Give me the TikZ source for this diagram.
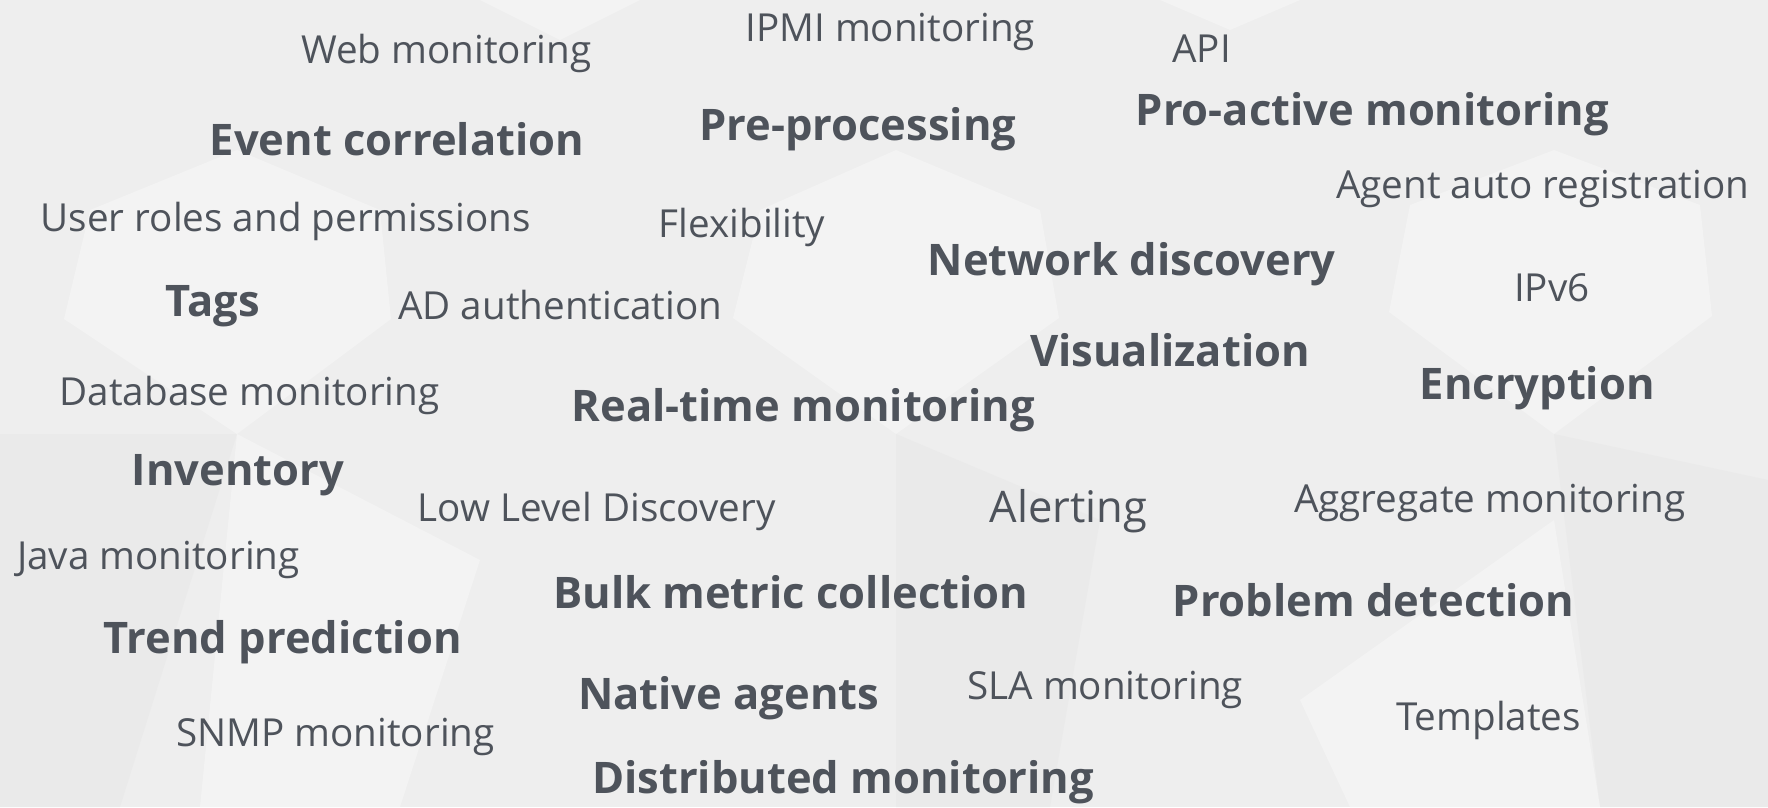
\documentclass[tikz,border=0pt]{standalone}
\usepackage{fontspec}
\setmainfont{Open Sans}
\definecolor{txt}{HTML}{4E535B}
\definecolor{bgbase}{HTML}{EEEEEE}
\definecolor{bglight}{HTML}{F3F3F3}
\definecolor{bgdark}{HTML}{EAEAEA}
\begin{document}
\begin{tikzpicture}[x=1pt,y=-1pt,
  word/.style={anchor=base west, inner sep=0pt, text=txt},
  reg/.style={word, font=\fontsize{38.6}{46}\selectfont},
  big/.style={word, font=\fontsize{43.5}{52}\selectfont},
  bld/.style={word, font=\fontsize{43.5}{52}\selectfont\bfseries},
  light/.style={fill=bglight, draw=none},
  dark/.style={fill=bgdark, draw=none}]
\useasboundingbox (0,0) rectangle (1768,807);
\fill[bgbase] (0,0) rectangle (1768,807);
% faint low-poly background
\fill[light] (733,318) -- (760,210) -- (896,150) -- (1040,210) -- (1059,318) -- (896,434) -- cycle;
\fill[light] (64,319) -- (90,210) -- (237,150) -- (380,210) -- (391,319) -- (237,434) -- cycle;
\fill[light] (1389,312) -- (1410,205) -- (1554,150) -- (1700,205) -- (1712,316) -- (1554,434) -- cycle;
\fill[light] (480,0) -- (640,0) -- (560,40) -- cycle;
\fill[light] (1160,0) -- (1300,0) -- (1230,30) -- cycle;
\fill[dark] (0,434) -- (237,434) -- (120,807) -- (0,807) -- cycle;
\fill[dark] (896,434) -- (1100,520) -- (1050,807) -- (896,807) -- cycle;
\fill[dark] (1554,434) -- (1768,480) -- (1768,807) -- (1600,807) -- cycle;
\fill[light] (237,434) -- (480,560) -- (400,807) -- (200,807) -- cycle;
\fill[light] (1300,700) -- (1554,520) -- (1600,807) -- (1350,807) -- cycle;
% regular words
\node[reg] (web)  at (301,63.3)   {Web monitoring};
\node[reg] (ipmi) at (745.2,41.7) {IPMI monitoring};
\node[reg, anchor=base east] (api) at (1231,62.7) {API};
\node[reg] (agent) at (1336,198.3) {Agent auto registration};
\node[reg] (user) at (40.6,231.7) {User roles and permissions};
\node[reg] (flex) at (658.6,237) {Flexibility};
\node[reg] (ad) at (398.1,319) {AD authentication};
\node[reg] (ipv6) at (1514,301.5) {IPv6};
\node[reg] (db) at (59.5,405.7) {Database monitoring};
\node[reg] (lld) at (417.7,521) {Low Level Discovery};
\node[big] (alert) at (989.7,522.5) {Alerting};
\node[reg] (aggr) at (1293.9,512) {Aggregate monitoring};
\node[reg] (java) at (16.9,569.5) {Java monitoring};
\node[reg] (sla) at (967.2,699.5) {SLA monitoring};
\node[reg] (tmpl) at (1396,730.5) {Templates};
\node[reg] (snmp) at (176.1,746) {SNMP monitoring};
% bold words
\node[bld] (event) at (209.5,155.5) {Event correlation};
\node[bld] (pre) at (699,140.5) {Pre-processing};
\node[bld] (pro) at (1135.5,125.5) {Pro-active monitoring};
\node[bld] (net) at (927.5,275) {Network discovery};
\node[bld] (tags) at (165.5,316.5) {Tags};
\node[bld] (vis) at (1030,366.5) {Visualization};
\node[bld] (enc) at (1419.5,399.5) {Encryption};
\node[bld] (rt) at (571.5,421.5) {Real-time monitoring};
\node[bld] (inv) at (131.5,485) {Inventory};
\node[bld] (bulk) at (553,608) {Bulk metric collection};
\node[bld] (prob) at (1172.5,616.5) {Problem detection};
\node[bld] (trend) at (103.5,653) {Trend prediction};
\node[bld] (native) at (578,709) {Native agents};
\node[bld] (dist) at (592,793.5) {Distributed monitoring};
\end{tikzpicture}
\end{document}
